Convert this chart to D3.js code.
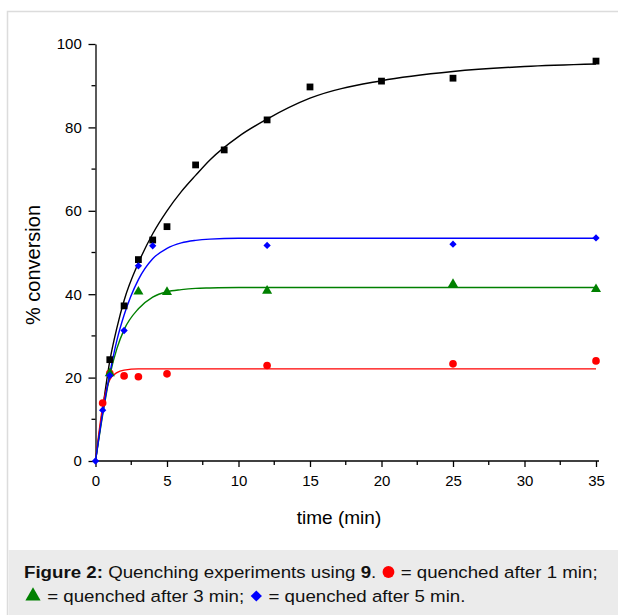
<!DOCTYPE html>
<html>
<head>
<meta charset="utf-8">
<script src="https://cdn.jsdelivr.net/npm/d3@7"></script>
<style>
  body { margin: 0; background: #fff; }
  svg { display: block; font-family: "Liberation Sans", Arial, sans-serif; }
</style>
</head>
<body>
<div id="chart"></div>
<script>
// measured points
var blackT = [1, 2, 3, 4, 5, 7, 9, 12, 15, 20, 25, 35]
var blackY = [24.3, 37.2, 48.3, 53.0, 56.2, 71.0, 74.6, 81.8, 89.7, 91.1, 91.8, 95.9]

var blueT = [0, 0.5, 1, 2, 3, 4, 12, 25, 35]
var blueY = [0, 12.2, 20.5, 31.3, 46.8, 51.6, 51.7, 52.0, 53.5]

var greenT = [1, 3, 5, 12, 25, 35]
var greenY = [21.0, 40.6, 40.5, 40.8, 42.4, 41.2]

var redT = [0.5, 1, 2, 3, 5, 12, 25, 35]
var redY = [13.9, 21.0, 20.4, 20.2, 20.9, 22.9, 23.3, 24.0]

// fitted curves
var fitT = [0, 0.5, 1, 1.5, 2, 3, 4, 5, 6, 7, 8, 10, 12, 15, 20, 25, 30, 35]
var blackFit = [0, 12.5, 24, 32, 38.5, 47.5, 54.5, 60, 64.6, 68.5, 72.2, 77.8, 82, 87, 91.2, 93.4, 94.6, 95.2]
var blueFit = [0, 11.5, 21, 29, 35, 43.5, 48.5, 51, 52.3, 52.9, 53.2, 53.4, 53.4, 53.4, 53.4, 53.4, 53.4, 53.4]
var greenFit = [0, 11, 20.5, 27, 31.5, 36.5, 39.3, 40.6, 41.1, 41.4, 41.5, 41.6, 41.6, 41.6, 41.6, 41.6, 41.6, 41.6]
var redFit = [0, 13, 19.5, 21.2, 21.8, 22.1, 22.1, 22.1, 22.1, 22.1, 22.1, 22.1, 22.1, 22.1, 22.1, 22.1, 22.1, 22.1]

var xTicks = [0, 5, 10, 15, 20, 25, 30, 35]
var yTicks = [0, 20, 40, 60, 80, 100]

var series = [
  { name: 'black', color: '#000000', shape: d3.symbolSquare, size: 46, t: blackT, y: blackY, fit: blackFit },
  { name: 'red', color: '#ff0000', shape: d3.symbolCircle, size: 46, t: redT, y: redY, fit: redFit },
  { name: 'green', color: '#008000', shape: d3.symbolTriangle, size: 44, t: greenT, y: greenY, fit: greenFit },
  { name: 'blue', color: '#0000ff', shape: d3.symbolDiamond2, size: 34, t: blueT, y: blueY, fit: blueFit },
]

var W = 618, H = 615
var svg = d3.select('#chart').append('svg').attr('width', W).attr('height', H)

// frame + caption box
svg.append('rect').attr('x', 7.5).attr('y', 11.5).attr('width', W).attr('height', H)
  .attr('fill', 'none').attr('stroke', '#dcdcdc').attr('stroke-width', 1.5)
svg.append('rect').attr('x', 8.5).attr('y', 550).attr('width', W).attr('height', H - 550)
  .attr('fill', '#ebebeb')

var x = d3.scaleLinear().domain([0, 35]).range([95.5, 596])
var y = d3.scaleLinear().domain([0, 100]).range([461, 44])

var g = svg.append('g')

// axes
var xAxis = g.append('g').attr('transform', 'translate(0,461)')
  .call(d3.axisBottom(x).tickValues(xTicks).tickFormat(d3.format('d')).tickSize(6).tickSizeOuter(0))
xAxis.select('.domain').attr('d', 'M' + x(0) + ',0H' + (x(35) + 3))
xAxis.selectAll('.minor').data(d3.range(2.5, 35, 5)).enter().append('line')
  .attr('class', 'minor').attr('x1', function(d) { return x(d) }).attr('x2', function(d) { return x(d) })
  .attr('y1', 0).attr('y2', 4).attr('stroke', '#000')

var yAxis = g.append('g').attr('transform', 'translate(' + x(0) + ',0)')
  .call(d3.axisLeft(y).tickValues(yTicks).tickSize(7).tickSizeOuter(0))
yAxis.selectAll('.minor').data(d3.range(10, 100, 20)).enter().append('line')
  .attr('class', 'minor').attr('y1', function(d) { return y(d) }).attr('y2', function(d) { return y(d) })
  .attr('x1', 0).attr('x2', -4).attr('stroke', '#000')

g.selectAll('.domain, .tick line, .minor').attr('stroke-width', 1.3)
xAxis.selectAll('.tick text').attr('font-size', 15).attr('dy', '1.05em').attr('fill', '#000')
  .attr('font-family', '"Liberation Sans", Arial, sans-serif')
yAxis.selectAll('.tick text').attr('font-size', 15).attr('dx', '-0.25em').attr('fill', '#000')
  .attr('font-family', '"Liberation Sans", Arial, sans-serif')

g.append('text').attr('x', 339).attr('y', 524).attr('text-anchor', 'middle')
  .attr('font-size', 19).text('time (min)')
g.append('text').attr('transform', 'translate(40,265) rotate(-90)').attr('text-anchor', 'middle')
  .attr('font-size', 20).text('% conversion')

// curves
var line = d3.line().curve(d3.curveMonotoneX)
  .x(function(d) { return x(d[0]) }).y(function(d) { return y(d[1]) })

series.forEach(function(s) {
  g.append('path').datum(fitT.map(function(t, i) { return [t, s.fit[i]] }))
    .attr('d', line).attr('fill', 'none').attr('stroke', s.color).attr('stroke-width', 1.4)
})

series.forEach(function(s) {
  g.selectAll('.pt-' + s.name).data(s.t.map(function(t, i) { return [t, s.y[i]] }))
    .enter().append('path').attr('class', 'pt-' + s.name)
    .attr('transform', function(d) { return 'translate(' + x(d[0]) + ',' + y(d[1]) + ')' })
    .attr('d', d3.symbol().type(s.shape).size(s.size)).attr('fill', s.color)
})

// caption
var capLines = [
  [
    { text: 'Figure 2:', bold: true },
    { text: ' Quenching experiments using ' },
    { text: '9', bold: true },
    { text: '. ' },
    { sym: d3.symbolCircle, color: '#ff0000', size: 110, w: 14 },
    { text: ' = quenched after 1 min;' },
  ],
  [
    { sym: d3.symbolTriangle, color: '#008000', size: 100, w: 18 },
    { text: ' = quenched after 3 min; ' },
    { sym: d3.symbolDiamond2, color: '#0000ff', size: 80, w: 14 },
    { text: ' = quenched after 5 min.' },
  ],
]
var capY = [578, 602]
var capFont = 16.5

// measure line 1 text to get the horizontal stretch of the caption font
var probe = svg.append('g')
var rawText = 0, symW = 0
capLines[0].forEach(function(p) {
  if (p.sym) { symW += p.w; return }
  var t = probe.append('text').attr('font-size', capFont).attr('font-weight', p.bold ? 'bold' : 'normal')
    .attr('xml:space', 'preserve').text(p.text)
  rawText += t.node().getComputedTextLength()
})
probe.remove()
var stretch = (598 - 24 - symW) / rawText

capLines.forEach(function(parts, li) {
  var cx = 24
  parts.forEach(function(p) {
    if (p.sym) {
      svg.append('path').attr('d', d3.symbol().type(p.sym).size(p.size))
        .attr('transform', 'translate(' + (cx + p.w / 2) + ',' + (capY[li] - 6) + ')')
        .attr('fill', p.color)
      cx += p.w
    } else {
      var t = svg.append('text').attr('transform', 'translate(' + cx + ',' + capY[li] + ') scale(' + stretch + ',1)')
        .attr('font-size', capFont).attr('font-weight', p.bold ? 'bold' : 'normal').attr('fill', '#111')
        .attr('xml:space', 'preserve').text(p.text)
      cx += t.node().getComputedTextLength() * stretch
    }
  })
})
</script>
</body>
</html>
